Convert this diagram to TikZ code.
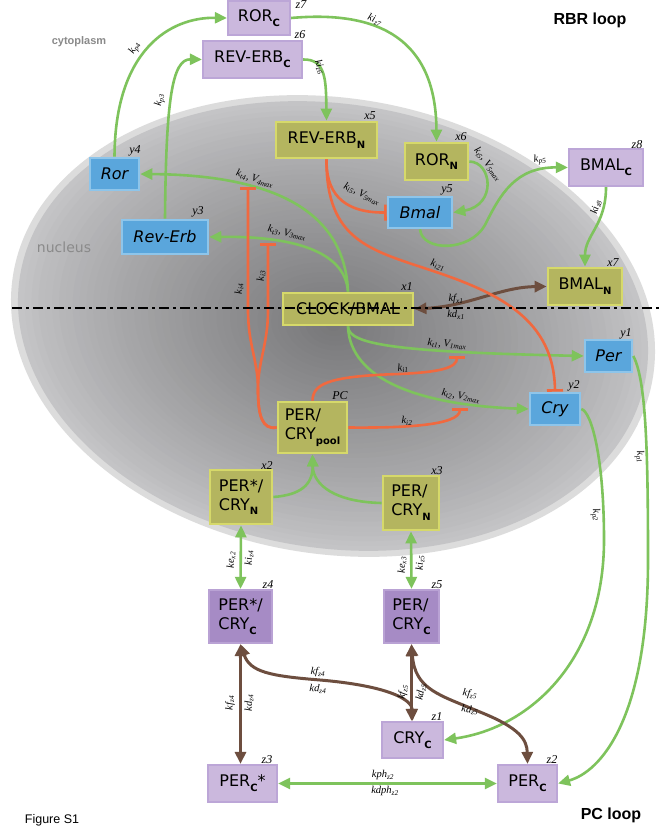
\documentclass[tikz,border=0pt]{standalone}
\usepackage{fontspec}
\setmainfont{DejaVu Sans}
\setsansfont{DejaVu Sans}
\newfontfamily\labfont{Liberation Serif}
\newfontfamily\arialfont{Liberation Sans}
\usetikzlibrary{arrows.meta}
\definecolor{cytF}{HTML}{CBB8DD}
\definecolor{cytB}{HTML}{BCA6D7}
\definecolor{cytdF}{HTML}{A68BC5}
\definecolor{cytdB}{HTML}{B9A2D4}
\definecolor{nucF}{HTML}{B4B55F}
\definecolor{nucB}{HTML}{D6D96A}
\definecolor{bluF}{HTML}{5AA6DC}
\definecolor{bluB}{HTML}{8EC5EA}
\definecolor{grn}{HTML}{7EC35C}
\definecolor{inh}{HTML}{F0693F}
\definecolor{brn}{HTML}{6D4E3F}
\definecolor{nucDark}{HTML}{78787A}
\definecolor{nucEdge}{HTML}{C4C4C6}
\definecolor{nucRim}{HTML}{DCDCDC}
\definecolor{txtgray}{HTML}{8A8A8A}
\newcommand\nsub[1]{\raisebox{-0.55ex}{\fontsize{10}{10}\selectfont\bfseries #1}}
\begin{document}
\begin{tikzpicture}[x=1pt,y=-1pt,
  box/.style={line width=2.2pt, inner sep=0pt, align=left, font=\sffamily\fontsize{16}{19}\selectfont},
  cyt/.style={box, draw=cytB, fill=cytF},
  cytd/.style={box, draw=cytdB, fill=cytdF},
  nuc/.style={box, draw=nucB, fill=nucF, line width=2.8pt},
  mrna/.style={box, draw=bluB, fill=bluF, line width=2.6pt, font=\sffamily\itshape\fontsize{16}{19}\selectfont},
  tag/.style={font=\labfont\itshape\fontsize{12}{12}\selectfont, inner sep=0pt},
  kl/.style={font=\labfont\itshape\fontsize{10.5}{11}\selectfont, inner sep=0pt},
  gline/.style={draw=grn, line width=2.6pt, -{Triangle[length=12pt,width=11pt]}},
  gdbl/.style={draw=grn, line width=2.6pt, {Triangle[length=12pt,width=11pt]}-{Triangle[length=12pt,width=11pt]}},
  bdbl/.style={draw=brn, line width=3pt, {Triangle[length=12pt,width=11pt]}-{Triangle[length=12pt,width=11pt]}},
  rline/.style={draw=inh, line width=2.6pt, -{Bar[width=16pt]}}
]
\useasboundingbox (0,0) rectangle (659,829);
\fill[white] (0,0) rectangle (659,829);

% nucleus
\begin{scope}[shift={(333,326)}, rotate=-9]
  \fill[nucRim] (0,0) ellipse [x radius=324, y radius=228];
  \foreach \i in {0,...,45}{
    \pgfmathsetmacro\f{1-\i/46}
    \pgfmathtruncatemacro\p{100*(\i/45)^0.85}
    \fill[nucDark!\p!nucEdge] (0,0) ellipse [x radius={\f*317}, y radius={\f*222}];
  }
\end{scope}

% free texts
\node[font=\arialfont\bfseries\fontsize{11}{12}\selectfont, text=txtgray] (cyto) at (79,42) {cytoplasm};
\node[font=\sffamily\fontsize{14}{15}\selectfont, text=txtgray] (nucl) at (64,247) {nucleus};
\node[font=\arialfont\bfseries\fontsize{16}{18}\selectfont] (rbr) at (590,20) {RBR loop};
\node[font=\arialfont\bfseries\fontsize{16}{18}\selectfont] (pcl) at (611,815) {PC loop};
\node[font=\arialfont\fontsize{12.5}{14}\selectfont] (fig) at (52,820) {Figure S1};

% boxes
\node[cyt, minimum width=62pt, minimum height=34pt] (RORC) at (259,18) {ROR\nsub{C}};
\node[cyt, minimum width=99pt, minimum height=37pt] (REVERBC) at (252.5,59.5) {REV-ERB\nsub{C}};
\node[nuc, minimum width=101pt, minimum height=36pt] (REVERBN) at (326.5,140) {REV-ERB\nsub{N}};
\node[nuc, minimum width=63pt, minimum height=37pt] (RORN) at (436.5,161.5) {ROR\nsub{N}};
\node[mrna, minimum width=64pt, minimum height=31pt] (Bmal) at (420,212.5) {Bmal};
\node[cyt, minimum width=74pt, minimum height=37pt] (BMALC) at (606,167.5) {BMAL\nsub{C}};
\node[nuc, minimum width=74pt, minimum height=37pt] (BMALN) at (585,286.5) {BMAL\nsub{N}};
\node[mrna, minimum width=49pt, minimum height=32pt] (Ror) at (114.5,174) {Ror};
\node[mrna, minimum width=86pt, minimum height=34pt] (RevErb) at (165,237) {Rev-Erb};
\node[nuc, minimum width=130pt, minimum height=32pt] (CLOCK) at (348,309) {CLOCK/BMAL};
\node[mrna, minimum width=47pt, minimum height=32pt] (Per) at (608.5,356) {Per};
\node[mrna, minimum width=50pt, minimum height=32pt] (Cry) at (555,409) {Cry};
\node[nuc, minimum width=69pt, minimum height=51pt] (pool) at (312.5,427.5) {PER/\\CRY\nsub{pool}};
\node[nuc, minimum width=62pt, minimum height=54pt] (PSCN) at (241,497) {PER*/\\CRY\nsub{N}};
\node[nuc, minimum width=56pt, minimum height=54pt] (PCN) at (411,503) {PER/\\CRY\nsub{N}};
\node[cytd, minimum width=63pt, minimum height=53pt] (PSCC) at (240.5,616.5) {PER*/\\CRY\nsub{C}};
\node[cytd, minimum width=55pt, minimum height=53pt] (PCC) at (411.5,616.5) {PER/\\CRY\nsub{C}};
\node[cyt, minimum width=61pt, minimum height=36pt] (CRYC) at (412.5,740) {CRY\nsub{C}};
\node[cyt, minimum width=69pt, minimum height=37pt] (PERCs) at (242.5,783.5) {PER\nsub{C}*};
\node[cyt, minimum width=59pt, minimum height=37pt] (PERC) at (527.5,783.5) {PER\nsub{C}};

% tags
\node[tag] (tz7) at (301,5) {z7};
\node[tag] (tz6) at (300,35) {z6};
\node[tag] (tx5) at (370,116) {x5};
\node[tag] (tx6) at (461,137) {x6};
\node[tag] (ty5) at (447,190) {y5};
\node[tag] (tz8) at (637,145) {z8};
\node[tag] (tx7) at (613,263) {x7};
\node[tag] (ty4) at (135,151) {y4};
\node[tag] (ty3) at (198,212) {y3};
\node[tag] (tx1) at (407,287) {x1};
\node[tag] (ty1) at (626,334) {y1};
\node[tag] (ty2) at (574,386) {y2};
\node[tag] (tpc) at (340,396) {PC};
\node[tag] (tx2) at (267,466) {x2};
\node[tag] (tx3) at (437,471) {x3};
\node[tag] (tz4) at (268,585) {z4};
\node[tag] (tz5) at (437,585) {z5};
\node[tag] (tz1) at (437,717) {z1};
\node[tag] (tz3) at (267,760) {z3};
\node[tag] (tz2) at (552,760) {z2};

% green connectors
\draw[gline] (Ror.north) .. controls (115,50) and (170,17) .. (RORC.west);
\draw[gline] (RevErb.north) .. controls (166,100) and (172,59) .. (REVERBC.west);
\draw[gline] (RORC.east) .. controls (380,10) and (436,40) .. (RORN.north);
\draw[gline] (REVERBC.east) .. controls (326,59) and (326,80) .. (REVERBN.north);
\draw[gline] (BMALC.south) .. controls (606,225) and (585,235) .. (BMALN.north);
\draw[gline] (Bmal.south) .. controls (422,252) and (470,252) .. (485,225) .. controls (500,195) and (515,167) .. (BMALC.west);
\draw[gline] (RORN.east) .. controls (492,162) and (497,205) .. (Bmal.east);
\draw[gline] (CLOCK.north) .. controls (345,215) and (280,175) .. (Ror.east);
\draw[gline] (CLOCK.north) .. controls (345,250) and (290,236) .. (RevErb.east);
\draw[gline] (CLOCK.south) .. controls (348,345) and (400,352) .. (Per.west);
\draw[gline] (CLOCK.south) .. controls (350,380) and (420,405) .. (Cry.west);
\draw[gline] (Per.east) .. controls (646,380) and (648,450) .. (648,560) .. controls (648,720) and (600,772) .. (PERC.east);
\draw[gline] (Cry.east) .. controls (592,412) and (604,460) .. (604,540) .. controls (604,660) and (530,728) .. (CRYC.east);
\draw[gline] (PSCN.east) .. controls (300,495) and (313,485) .. (pool.south);
\draw[gline] (PCN.west) .. controls (335,502) and (313,485) .. (pool.south);
\draw[gdbl] (PSCN.south) -- (PSCC.north);
\draw[gdbl] (PCN.south) -- (PCC.north);
\draw[gdbl] (PERCs.east) -- (PERC.west);

% brown connectors
\draw[bdbl] (BMALN.west) .. controls (500,287) and (470,306) .. (CLOCK.east);
\draw[bdbl] (PSCC.south) .. controls (250,672) and (270,676) .. (320,680) .. controls (390,686) and (412,700) .. (CRYC.north);
\draw[bdbl] (PSCC.south) -- (PSCC.south |- PERCs.north);
\draw[bdbl] (PCC.south) -- (PCC.south |- CRYC.north);
\draw[bdbl] (PCC.south) .. controls (415,690) and (440,695) .. (480,712) .. controls (520,728) and (527,740) .. (PERC.north);

% red inhibitions
\draw[rline] (REVERBN.south) .. controls (326,190) and (340,213) .. (Bmal.west);
\draw[rline] (REVERBN.south) .. controls (326,240) and (370,250) .. (430,270) .. controls (500,293) and (554,320) .. (Cry.north);
\draw[rline] (pool.west) .. controls (262,430) and (258,415) .. (258,390) .. controls (258,360) and (248,345) .. (248,310) -- (248,187);
\draw[rline] (pool.west) .. controls (262,430) and (258,415) .. (258,390) .. controls (258,360) and (268,345) .. (268,310) -- (268,243);
\draw[rline] (pool.north) .. controls (313,385) and (325,376) .. (400,374) .. controls (440,372) and (457,368) .. (457,356);
\draw[rline] (pool.east) .. controls (400,428) and (460,426) .. (460,408);

% rate labels
\node[kl, rotate=60] (lkp4) at (135,48) {k\textsubscript{p4}};
\node[kl, rotate=80] (lkp3) at (160,100) {k\textsubscript{p3}};
\node[kl, rotate=-22] (lkiz7) at (375,20) {ki\textsubscript{z7}};
\node[kl, rotate=-70] (lkiz6) at (320,67) {ki\textsubscript{z6}};
\node[kl, rotate=-52] (lkt5) at (488,164) {k\textsubscript{t5}, V\textsubscript{5max}};
\node[kl, rotate=8] (lkp5) at (540,160) {k\textsubscript{p5}};
\node[kl, rotate=75] (lkiz8) at (596,207) {ki\textsubscript{z8}};
\node[kl, rotate=-17] (lkt4) at (255,179) {k\textsubscript{t4}, V\textsubscript{4max}};
\node[kl, rotate=-12] (lkt3) at (287,233) {k\textsubscript{t3}, V\textsubscript{3max}};
\node[kl, rotate=-25] (lki5) at (362,194) {k\textsubscript{i5}, V\textsubscript{5max}};
\node[kl, rotate=-17] (lki21) at (438,265) {k\textsubscript{i21}};
\node[kl, rotate=90] (lki4) at (239,289) {k\textsubscript{i4}};
\node[kl, rotate=90] (lki3) at (261,276) {k\textsubscript{i3}};
\node[kl] (lkfx1) at (456,299) {kf\textsubscript{x1}};
\node[kl] (lkdx1) at (456,315) {kd\textsubscript{x1}};
\node[kl, rotate=-5] (lkt1) at (447,344) {k\textsubscript{t1}, V\textsubscript{1max}};
\node[kl, rotate=5] (lki1) at (403,368) {k\textsubscript{i1}};
\node[kl, rotate=-10] (lkt2) at (461,396) {k\textsubscript{t2}, V\textsubscript{2max}};
\node[kl] (lki2) at (407,421) {k\textsubscript{i2}};
\node[kl, rotate=90] (lkex2) at (231,560) {ke\textsubscript{x2}};
\node[kl, rotate=90] (lkiz4) at (249,558) {ki\textsubscript{z4}};
\node[kl, rotate=90] (lkex3) at (402,565) {ke\textsubscript{x3}};
\node[kl, rotate=90] (lkiz5) at (420,563) {ki\textsubscript{z5}};
\node[kl, rotate=-3] (lkfz4) at (318,672) {kf\textsubscript{z4}};
\node[kl, rotate=-3] (lkdz4) at (318,689) {kd\textsubscript{z4}};
\node[kl, rotate=90] (lkfz4v) at (230,703) {kf\textsubscript{z4}};
\node[kl, rotate=90] (lkdz4v) at (249,703) {kd\textsubscript{z4}};
\node[kl, rotate=80] (lkfz5v) at (403,692) {kf\textsubscript{z5}};
\node[kl, rotate=80] (lkdz5v) at (421,692) {kd\textsubscript{z5}};
\node[kl, rotate=-8] (lkfz5) at (470,694) {kf\textsubscript{z5}};
\node[kl, rotate=-8] (lkdz5) at (470,710) {kd\textsubscript{z5}};
\node[kl] (lkph) at (383,775) {kph\textsubscript{z2}};
\node[kl] (lkdph) at (385,791) {kdph\textsubscript{z2}};
\node[kl, rotate=-80] (lkp1) at (640,457) {k\textsubscript{p1}};
\node[kl, rotate=-80] (lkp2) at (596,515) {k\textsubscript{p2}};

% dash-dot separator
\coordinate (dl) at (12,308);
\coordinate (dr) at (659,308);
\draw[line width=2.8pt, dash pattern=on 10pt off 4pt on 3pt off 4pt] (dl) -- (dr);
\end{tikzpicture}
\end{document}
